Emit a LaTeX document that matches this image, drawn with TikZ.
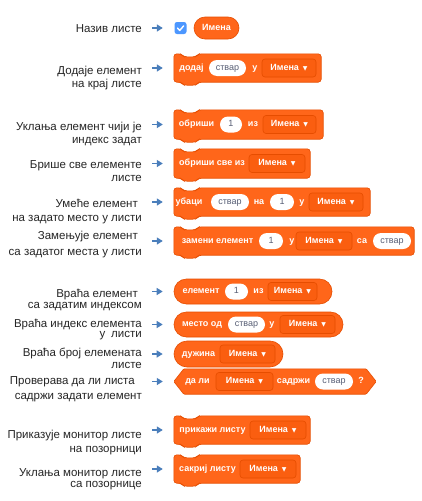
\documentclass[tikz,border=0pt]{standalone}
\usepackage{fontspec}
\setmainfont{Liberation Sans}
\newfontfamily\symfont{DejaVu Sans}
\usetikzlibrary{positioning, arrows.meta, calc, shapes.misc}

\definecolor{blockfill}{HTML}{FF661A}
\definecolor{blockline}{HTML}{E64D00}
\definecolor{ddfill}{HTML}{FA5E10}
\definecolor{inputtext}{HTML}{575E75}
\definecolor{arrowblue}{HTML}{4A7EBB}
\definecolor{checkblue}{HTML}{4C97FF}

% list name with its little drop-down triangle
\newcommand\listname{Имена\hspace{4pt}{\symfont\fontsize{6}{6}\selectfont ▼}}

% command block: notch on top, tab below
\newcommand\stackoutline[1]{%
  \filldraw[outline] (#1.north west) -- ($(#1.north west)+(7,0)$) -- ($(#1.north west)+(10,3)$)
    -- ($(#1.north west)+(22,3)$) -- ($(#1.north west)+(25,0)$) -- (#1.north east)
    -- (#1.south east) -- ($(#1.south west)+(25,0)$) -- ($(#1.south west)+(22,3)$)
    -- ($(#1.south west)+(10,3)$) -- ($(#1.south west)+(7,0)$) -- (#1.south west) -- cycle;}

\begin{document}
\begin{tikzpicture}[
  x=1pt, y=-1pt,
  lbl/.style={anchor=base east, align=right, inner sep=0pt, font=\fontsize{11.5}{13}\selectfont, text=black!85},
  arr/.style={-{Triangle[length=6pt,width=7pt]}, line width=1.3pt, draw=arrowblue, shorten <=10pt, shorten >=11pt},
  stackblk/.style={inner sep=0pt},
  outline/.style={fill=blockfill, draw=blockline, line width=0.6pt, rounded corners=3pt},
  reporter/.style={rounded rectangle, fill=blockfill, draw=blockline, line width=0.6pt, inner sep=0pt},
  btxt/.style={text=white, inner sep=0pt, text height=6.5pt, text depth=2pt, font=\fontsize{9}{10}\selectfont\bfseries},
  input/.style={rounded rectangle, fill=white, text=inputtext, inner sep=0pt, minimum height=16pt,
    text height=6.5pt, text depth=2pt, font=\fontsize{9}{10}\selectfont},
  dd/.style={draw=blockline, fill=ddfill, rounded corners=3pt, text=white, inner sep=0pt, minimum height=18pt,
    line width=0.6pt, text height=6.5pt, text depth=2pt, font=\fontsize{9}{10}\selectfont\bfseries}
]
\fill[white] (0,0) rectangle (422,501);
\useasboundingbox (0,0) rectangle (422,501);

% labels on the left (base = last line)
\node[lbl] (l1)  at (142,32)  {Назив листе};
\node[lbl] (l2)  at (142,87)  {Додаје елемент\\на крај листе};
\node[lbl] (l3)  at (142,143) {Уклања елемент чији је\\индекс задат};
\node[lbl] (l4)  at (142,181) {Брише све елементе\\листе};
\node[lbl] (l5)  at (142,221) {Умеће елемент\hspace*{4pt}\\[1pt]на задато место у листи};
\node[lbl] (l6)  at (142,255) {Замењује елемент\hspace*{4pt}\\[3pt]са задатог места у листи};
\node[lbl] (l7)  at (142,308) {Враћа елемент\hspace*{4pt}\\[-2pt]са задатим индексом};
\node[lbl] (l8)  at (142,337) {Враћа индекс елемента\\[-3pt]у\enspace листи};
\node[lbl] (l9)  at (142,368) {Враћа број елемената\\[-1pt]листе};
\node[lbl] (l10) at (142,399) {Проверава да ли листа\hspace*{7pt}\\[2pt]садржи задати елемент};
\node[lbl] (l11) at (142,452) {Приказује монитор листе\\[1pt]на позорници};
\node[lbl] (l12) at (142,487) {Уклања монитор листе\\[-2pt]са позорнице};

% list reporter with its checkbox
\node[rounded corners=2.5pt, fill=checkblue, minimum size=12pt, inner sep=0pt] (cb) at (180.5,28) {};
\draw[white, line width=1.4pt, line cap=round, line join=round]
  ($(cb)+(-3,0)$) -- ($(cb)+(-0.8,2.5)$) -- ($(cb)+(3.2,-2.2)$);
\node[reporter, minimum width=45pt, minimum height=22pt] (b1) at (216.5,28) {};
\node[btxt] (b1a) at (b1) {Имена};

% add
\node[stackblk, minimum width=147pt, minimum height=28pt] (b2) at (247.5,68) {};
\stackoutline{b2}
\node[btxt] (b2a) at (191.5,68) {додај};
\node[input, minimum width=37pt] (b2b) at (227.5,68) {ствар};
\node[btxt] (b2c) at (255,68) {у};
\node[dd, minimum width=54pt] (b2d) at (289,68) {\listname};

% delete
\node[stackblk, minimum width=149pt, minimum height=29pt] (b3) at (248.5,124.5) {};
\stackoutline{b3}
\node[btxt] (b3a) at (196.5,124.5) {обриши};
\node[input, minimum width=22pt] (b3b) at (231,124.5) {1};
\node[btxt] (b3c) at (253,124.5) {из};
\node[dd, minimum width=53pt] (b3d) at (289.5,124.5) {\listname};

% delete all
\node[stackblk, minimum width=136pt, minimum height=29pt] (b4) at (242,163.5) {};
\stackoutline{b4}
\node[btxt] (b4a) at (212,163.5) {обриши све из};
\node[dd, minimum width=56pt] (b4d) at (277,163.5) {\listname};

% insert
\node[stackblk, minimum width=196pt, minimum height=28pt] (b5) at (272,202) {};
\stackoutline{b5}
\node[btxt] (b5a) at (189,202) {убаци};
\node[input, minimum width=38pt] (b5b) at (230,202) {ствар};
\node[btxt] (b5c) at (259,202) {на};
\node[input, minimum width=24pt] (b5d) at (282,202) {1};
\node[btxt] (b5e) at (302,202) {у};
\node[dd, minimum width=54pt] (b5f) at (336,202) {\listname};

% replace
\node[stackblk, minimum width=240pt, minimum height=28pt] (b6) at (294,241) {};
\stackoutline{b6}
\node[btxt] (b6a) at (217.5,241) {замени елемент};
\node[input, minimum width=24pt] (b6b) at (271,241) {1};
\node[btxt] (b6c) at (292,241) {у};
\node[dd, minimum width=56pt] (b6d) at (324,241) {\listname};
\node[btxt] (b6e) at (362,241) {са};
\node[input, minimum width=38pt] (b6f) at (392,241) {ствар};

% reporters
\node[reporter, minimum width=158pt, minimum height=25pt] (b7) at (253,291.5) {};
\node[btxt] (b7a) at (201,291.5) {елемент};
\node[input, minimum width=23pt] (b7b) at (236.5,291.5) {1};
\node[btxt] (b7c) at (258.5,291.5) {из};
\node[dd, minimum width=49pt] (b7d) at (292.5,291.5) {\listname};

\node[reporter, minimum width=169pt, minimum height=25pt] (b8) at (258.5,324.5) {};
\node[btxt] (b8a) at (202,324.5) {место од};
\node[input, minimum width=37pt] (b8b) at (246.5,324.5) {ствар};
\node[btxt] (b8c) at (272,324.5) {у};
\node[dd, minimum width=55pt] (b8d) at (307.5,324.5) {\listname};

\node[reporter, minimum width=109pt, minimum height=26pt] (b9) at (228.5,354) {};
\node[btxt] (b9a) at (198.5,354) {дужина};
\node[dd, minimum width=55pt] (b9d) at (247.5,354) {\listname};

% boolean block
\node[stackblk, minimum width=202pt, minimum height=25pt] (b10) at (275,381.5) {};
\filldraw[outline, rounded corners=1pt] (b10.west) -- ($(b10.north west)+(10,0)$) -- ($(b10.north east)+(-10,0)$)
  -- (b10.east) -- ($(b10.south east)+(-10,0)$) -- ($(b10.south west)+(10,0)$) -- cycle;
\node[btxt] (b10a) at (197.5,381.5) {да ли};
\node[dd, minimum width=57pt] (b10b) at (244.5,381.5) {\listname};
\node[btxt] (b10c) at (293.5,381.5) {садржи};
\node[input, minimum width=38pt] (b10d) at (334,381.5) {ствар};
\node[btxt] (b10e) at (361,381.5) {?};

% show / hide
\node[stackblk, minimum width=136pt, minimum height=28pt] (b11) at (242,430) {};
\stackoutline{b11}
\node[btxt] (b11a) at (212.5,430) {прикажи листу};
\node[dd, minimum width=56pt] (b11d) at (278,430) {\listname};

\node[stackblk, minimum width=126pt, minimum height=28pt] (b12) at (237,469) {};
\stackoutline{b12}
\node[btxt] (b12a) at (207.5,469) {сакриј листу};
\node[dd, minimum width=56pt] (b12d) at (268,469) {\listname};

% arrows from labels to blocks
\draw[arr, shorten >=11.5pt] (l1.east |- cb.west) -- (cb.west);
\foreach \i in {2,...,12}
  \draw[arr] (l\i.east |- b\i.west) -- (b\i.west);

\end{tikzpicture}
\end{document}
